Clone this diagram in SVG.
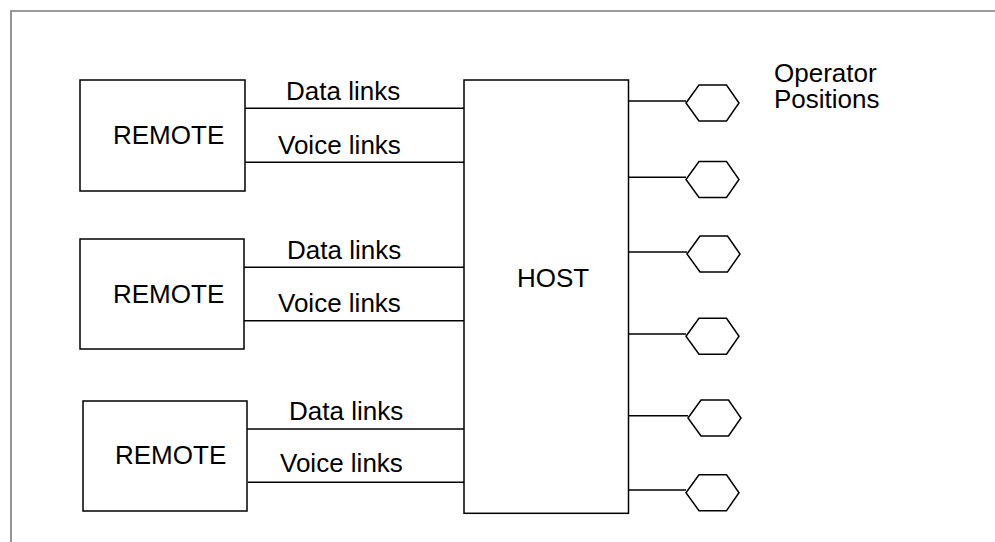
<svg xmlns="http://www.w3.org/2000/svg" xmlns:xlink="http://www.w3.org/1999/xlink" width="995" height="542" viewBox="0 0 995 542">
<style>
.frame{fill:none;stroke:#7a7a7a;stroke-width:1.6}
.box{fill:#fff;stroke:#000;stroke-width:1.5}
.ln{stroke:#000;stroke-width:1.5;fill:none}
text{font-family:"Liberation Sans",Arial,sans-serif;font-size:26px;fill:#000}
</style>
<defs>
<polygon id="hex" points="0,0 13,-18 40.5,-18 53,0 40.5,18 13,18" fill="#fff" stroke="#000" stroke-width="1.5" stroke-linejoin="miter"/>
</defs>
<rect width="995" height="542" fill="#fff"/>
<path class="frame" d="M11,542 V11 H995"/>

<g id="connectors">
<line class="ln" x1="245" y1="108.3" x2="464" y2="108.3"/>
<line class="ln" x1="245" y1="162.3" x2="464" y2="162.3"/>
<line class="ln" x1="244" y1="267.3" x2="464" y2="267.3"/>
<line class="ln" x1="244" y1="320.7" x2="464" y2="320.7"/>
<line class="ln" x1="247" y1="429" x2="464" y2="429"/>
<line class="ln" x1="248" y1="482.3" x2="468" y2="482.3"/>
<line class="ln" x1="628.5" y1="101" x2="686" y2="101"/>
<line class="ln" x1="628.5" y1="177.3" x2="686" y2="177.3"/>
<line class="ln" x1="628.5" y1="252" x2="687" y2="252"/>
<line class="ln" x1="628.5" y1="334" x2="686" y2="334"/>
<line class="ln" x1="628.5" y1="415.7" x2="688" y2="415.7"/>
<line class="ln" x1="628.5" y1="490" x2="686" y2="490"/>
</g>

<g id="link-labels">
<text x="286" y="100">Data links</text>
<text x="278" y="154">Voice links</text>
<text x="287" y="259">Data links</text>
<text x="278" y="311.7">Voice links</text>
<text x="289" y="420">Data links</text>
<text x="280" y="472">Voice links</text>
</g>

<g id="remote1">
<rect class="box" x="80" y="80" width="165" height="111"/>
<text x="113" y="144">REMOTE</text>
</g>
<g id="remote2">
<rect class="box" x="80" y="239" width="164" height="110"/>
<text x="113" y="302.7">REMOTE</text>
</g>
<g id="remote3">
<rect class="box" x="83" y="401" width="164" height="110"/>
<text x="115" y="464">REMOTE</text>
</g>

<g id="host">
<rect class="box" x="464" y="80" width="164.5" height="433.3"/>
<text x="517" y="286.7">HOST</text>
</g>

<g id="op1"><use xlink:href="#hex" href="#hex" transform="translate(686,103)"/></g>
<g id="op2"><use xlink:href="#hex" href="#hex" transform="translate(686,179.5)"/></g>
<g id="op3"><use xlink:href="#hex" href="#hex" transform="translate(687,254)"/></g>
<g id="op4"><use xlink:href="#hex" href="#hex" transform="translate(686,336.3)"/></g>
<g id="op5"><use xlink:href="#hex" href="#hex" transform="translate(688,418)"/></g>
<g id="op6"><use xlink:href="#hex" href="#hex" transform="translate(686,492.7)"/></g>

<g id="operator-label">
<text x="774" y="82">Operator</text>
<text x="774" y="108.3">Positions</text>
</g>
</svg>
